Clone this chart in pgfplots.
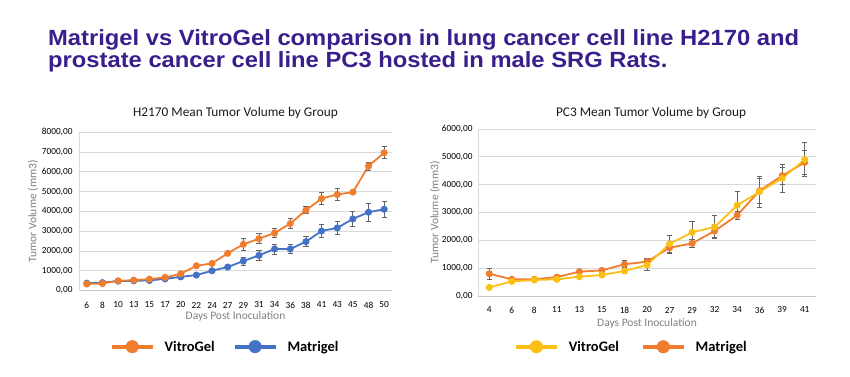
\documentclass[border=0pt]{standalone}
\usepackage{fontspec}
\setmainfont{Carlito}
\newfontfamily\titlefont[FakeStretch=1.08]{Liberation Sans}
\usepackage{pgfplots}
\usepackage{pgfplotstable}
\pgfplotsset{compat=1.18}
\definecolor{ttl}{RGB}{58,30,140}
\definecolor{vorange}{RGB}{240,124,46}
\definecolor{mblue}{RGB}{68,114,196}
\definecolor{vyellow}{RGB}{252,192,20}
\definecolor{gridc}{RGB}{217,217,217}
\definecolor{axc}{RGB}{200,200,200}
\definecolor{labc}{RGB}{127,127,127}
\definecolor{errc}{RGB}{100,100,100}

% H2170: x index, VitroGel, error, Matrigel, error
\pgfplotstableread{
x v ve m me
0  330  30  370  30
1  355  30  400  30
2  490  40  475  40
3  525  40  490  40
4  575  40  510  40
5  660  50  590  50
6  845  60  690  50
7  1250 50  780  50
8  1370 50  1000 60
9  1880 80  1185 80
10 2335 300 1490 200
11 2620 250 1775 250
12 2910 240 2100 250
13 3385 250 2100 220
14 4060 170 2470 260
15 4650 300 3010 340
16 4855 290 3165 350
17 4975 80  3620 400
18 6295 200 3960 450
19 6970 300 4110 420
}\lefttab

% PC3: x index, VitroGel, error, Matrigel, error
\pgfplotstableread{
x v ve m me
0  310  60  800  200
1  525  40  600  50
2  575  40  600  50
3  600  40  680  50
4  695  50  875  60
5  755  50  920  60
6  900  80  1140 130
7  1115 200 1235 120
8  1870 300 1735 200
9  2290 380 1890 150
10 2480 420 2335 240
11 3260 500 2900 150
12 3750 560 3785 450
13 4230 500 4325 300
14 4900 620 4800 420
}\righttab

\pgfplotsset{
  chart/.style={
    scale only axis,
    axis x line*=bottom,
    axis y line*=left,
    x axis line style={axc, line width=0.9pt},
    y axis line style={gridc, line width=0.8pt},
    ymajorgrids,
    grid style={gridc, line width=0.9pt},
    xtick style={draw=none},
    ytick style={draw=none},
    /pgf/number format/assume math mode=true,
    ticklabel style={font=\fontsize{9.3}{10}\selectfont, text=black},
    xticklabel style={anchor=center, yshift=-14.5pt},
    yticklabel style={xshift=-3pt},
    label style={font=\fontsize{11.5}{13}\selectfont, text=labc},
    title style={font=\fontsize{13.3}{15}\selectfont, text=black!90},
    xmin=-0.5, ymin=0,
    legend style={draw=none, fill=none, legend columns=-1,
      font=\fontsize{14.5}{17}\selectfont\bfseries,
      column sep=0pt,
      /tikz/every odd column/.append style={column sep=10pt},
      /tikz/every even column/.append style={column sep=18pt},
      inner sep=0pt, nodes={inner sep=0pt}},
  },
  ser/.style={line width=1.8pt, mark=*, mark size=2.6pt,
    error bars/y dir=both, error bars/y explicit,
    error bars/error bar style={errc, line width=0.8pt},
    error bars/error mark options={rotate=90, errc, mark size=2.6pt, line width=0.8pt}},
  legimg/.style={legend image code/.code={
    \draw[line width=3.8pt] (0pt,0pt) -- (41pt,0pt);
    \fill (20.5pt,0pt) circle (6.3pt);}},
}

\begin{document}
\begin{tikzpicture}[x=1pt,y=1pt]
\path[use as bounding box] (0,0) rectangle (850,376);
\node[anchor=base west, inner sep=0pt, text=ttl] at (48,331)
  {\titlefont\bfseries\fontsize{22}{24}\selectfont Matrigel vs VitroGel comparison in lung cancer cell line H2170 and};
\node[anchor=base west, inner sep=0pt, text=ttl] at (48,308.3)
  {\titlefont\bfseries\fontsize{22}{24}\selectfont prostate cancer cell line PC3 hosted in male SRG Rats.};

\begin{axis}[chart,
  at={(79pt,85.5pt)}, anchor=south west,
  width=313pt, height=158.2pt,
  xmax=19.5, ymax=8000,
  xtick={0,...,19},
  xticklabels={6,8,10,13,15,17,20,22,24,27,29,31,34,36,38,41,43,45,48,50},
  ytick={0,1000,...,8000},
  yticklabels={{0,00},{1000,00},{2000,00},{3000,00},{4000,00},{5000,00},{6000,00},{7000,00},{8000,00}},
  title={H2170 Mean Tumor Volume by Group},
  title style={at={(0.5,1.084)}, anchor=center},
  xlabel={Days Post Inoculation},
  xlabel style={at={(axis description cs:0.5,-0.164)}, anchor=center},
  ylabel={Tumor Volume (mm3)},
  ylabel style={at={(axis description cs:-0.147,0.5)}, anchor=center},
  legend style={at={(0.098,-0.355)}, anchor=west},
]
\addplot[mblue, ser, forget plot] table[x=x, y=m, y error=me] {\lefttab};
\addplot[vorange, ser, forget plot] table[x=x, y=v, y error=ve] {\lefttab};
\addlegendimage{vorange, legimg}
\addlegendentry{VitroGel}
\addlegendimage{mblue, legimg}
\addlegendentry{Matrigel}
\end{axis}

\begin{axis}[chart,
  at={(478pt,80pt)}, anchor=south west,
  width=338pt, height=167pt,
  xmax=14.5, ymax=6000,
  xtick={0,...,14},
  xticklabels={4,6,8,11,13,15,18,20,27,29,32,34,36,39,41},
  xticklabel style={yshift=0.5pt},
  ytick={0,1000,...,6000},
  yticklabels={{0,00},{1000,00},{2000,00},{3000,00},{4000,00},{5000,00},{6000,00}},
  yticklabel style={xshift=1pt},
  title={PC3 Mean Tumor Volume by Group},
  title style={at={(0.512,1.058)}, anchor=center},
  xlabel={Days Post Inoculation},
  xlabel style={at={(axis description cs:0.5,-0.166)}, anchor=center},
  ylabel={Tumor Volume (mm3)},
  ylabel style={at={(axis description cs:-0.127,0.5)}, anchor=center},
  legend style={at={(0.106,-0.304)}, anchor=west, /tikz/every even column/.append style={column sep=22pt}},
]
\addplot[vorange, ser, forget plot] table[x=x, y=m, y error=me] {\righttab};
\addplot[vyellow, ser, forget plot] table[x=x, y=v, y error=ve] {\righttab};
\addlegendimage{vyellow, legimg}
\addlegendentry{VitroGel}
\addlegendimage{vorange, legimg}
\addlegendentry{Matrigel}
\end{axis}
\end{tikzpicture}
\end{document}
